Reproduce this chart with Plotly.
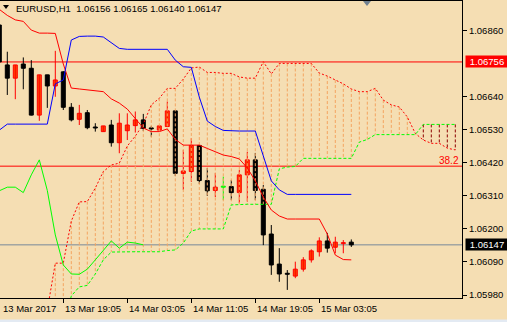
import plotly.graph_objects as go

# ---------------- data ----------------
bars = list(range(-1, 44))  # hourly bar index, 0 = 13 Mar 12:05
opens = [1.06879, 1.06746, 1.06702, 1.06749, 1.06735, 1.06579, 1.06713, 1.06676, 1.06723, 1.06605,
         1.06565, 1.06587, 1.06538, 1.06524, 1.06546, 1.06487, 1.06527, 1.06544, 1.06563, 1.06535,
         1.06529, 1.06541, 1.06593, 1.06385, 1.06391, 1.06478, 1.06361, 1.06328, 1.06339, 1.06341,
         1.06321, 1.06380, 1.06430, 1.06332, 1.06183, 1.06083, 1.06051, 1.06043, 1.06066, 1.06097,
         1.06124, 1.06160, 1.06139, 1.06151, 1.06156]
highs = [1.06879, 1.06790, 1.06746, 1.06771, 1.06762, 1.06713, 1.06713, 1.06793, 1.06725, 1.06619,
         1.06613, 1.06596, 1.06552, 1.06543, 1.06563, 1.06585, 1.06585, 1.06591, 1.06583, 1.06543,
         1.06544, 1.06624, 1.06596, 1.06463, 1.06502, 1.06479, 1.06403, 1.06386, 1.06374, 1.06363,
         1.06396, 1.06457, 1.06453, 1.06346, 1.06213, 1.06136, 1.06063, 1.06091, 1.06106, 1.06132,
         1.06172, 1.06187, 1.06174, 1.06163, 1.06165]
lows = [1.06756, 1.06646, 1.06632, 1.06665, 1.06578, 1.06560, 1.06603, 1.06640, 1.06596, 1.06558,
        1.06546, 1.06532, 1.06524, 1.06524, 1.06474, 1.06452, 1.06496, 1.06521, 1.06526, 1.06507,
        1.06528, 1.06539, 1.06376, 1.06330, 1.06357, 1.06350, 1.06310, 1.06306, 1.06296, 1.06296,
        1.06286, 1.06291, 1.06296, 1.06146, 1.06047, 1.06024, 1.05997, 1.06036, 1.06058, 1.06088,
        1.06108, 1.06121, 1.06119, 1.06119, 1.06140]
closes = [1.06756, 1.06702, 1.06746, 1.06735, 1.06579, 1.06713, 1.06676, 1.06696, 1.06605, 1.06563,
          1.06585, 1.06537, 1.06536, 1.06543, 1.06487, 1.06552, 1.06546, 1.06563, 1.06535, 1.06533,
          1.06543, 1.06593, 1.06385, 1.06393, 1.06478, 1.06361, 1.06327, 1.06339, 1.06339, 1.06321,
          1.06380, 1.06430, 1.06328, 1.06180, 1.06080, 1.06050, 1.06049, 1.06066, 1.06097, 1.06127,
          1.06160, 1.06136, 1.06156, 1.06153, 1.06147]

tenkan = [1.06931, 1.06911, 1.06896, 1.06891, 1.06862, 1.06852, 1.06852, 1.06851, 1.06749, 1.06669,
          1.06666, 1.06663, 1.06659, 1.06657, 1.06633, 1.06619, 1.06599, 1.06568, 1.06536, 1.06524,
          1.06524, 1.06533, 1.06498, 1.06479, 1.06479, 1.06479, 1.06468, 1.06457, 1.06446, 1.06441,
          1.06433, 1.06403, 1.06360, 1.06306, 1.06263, 1.06243, 1.06233, 1.06233, 1.06233, 1.06233,
          1.06233, 1.06183, 1.06113, 1.06098, 1.06097]
kijun = [1.06529, 1.06549, 1.06549, 1.06549, 1.06549, 1.06549, 1.06549, 1.06683, 1.06696, 1.06829,
         1.06841, 1.06842, 1.06842, 1.06839, 1.06821, 1.06801, 1.06798, 1.06798, 1.06798, 1.06798,
         1.06798, 1.06798, 1.06762, 1.06740, 1.06738, 1.06639, 1.06559, 1.06541, 1.06528, 1.06526,
         1.06526, 1.06526, 1.06526, 1.06443, 1.06360, 1.06330, 1.06315, 1.06315, 1.06315, 1.06315,
         1.06315, 1.06315, 1.06315, 1.06315, 1.06315]
chikou_shift = 26

cloud_bars = list(range(5, 57))
senkou_a = [1.05930, 1.06086, 1.06086, 1.06226, 1.06290, 1.06291, 1.06336, 1.06391, 1.06413, 1.06419,
            1.06476, 1.06509, 1.06549, 1.06613, 1.06635, 1.06668, 1.06668, 1.06699, 1.06736, 1.06739,
            1.06721, 1.06721, 1.06718, 1.06718, 1.06706, 1.06702, 1.06702, 1.06757, 1.06716, 1.06751,
            1.06751, 1.06751, 1.06751, 1.06751, 1.06719, 1.06709, 1.06696, 1.06683, 1.06666, 1.06657,
            1.06657, 1.06668, 1.06629, 1.06613, 1.06606, 1.06573, 1.06518, 1.06496, 1.06485, 1.06485,
            1.06469, 1.06463]
senkou_b = [1.05750, 1.05800, 1.05863, 1.05977, 1.06007, 1.06012, 1.06050, 1.06097, 1.06123, 1.06124,
            1.06124, 1.06124, 1.06124, 1.06124, 1.06124, 1.06128, 1.06130, 1.06153, 1.06193, 1.06200,
            1.06200, 1.06200, 1.06200, 1.06280, 1.06282, 1.06282, 1.06282, 1.06282, 1.06282, 1.06400,
            1.06406, 1.06408, 1.06435, 1.06435, 1.06435, 1.06435, 1.06435, 1.06435, 1.06435, 1.06489,
            1.06498, 1.06514, 1.06514, 1.06514, 1.06514, 1.06514, 1.06514, 1.06548, 1.06548, 1.06548,
            1.06548, 1.06548]

level_line = 1.06756
fib_line = 1.06409
fib_text = "38.2"
bid_price = 1.06147

x_tick_bars = [7, 15, 23, 31, 39]
x_tick_labels = ["13 Mar 19:05", "14 Mar 03:05", "14 Mar 11:05", "14 Mar 19:05", "15 Mar 03:05"]
first_date_label = "13 Mar 2017"
y_ticks = [1.06860, 1.06640, 1.06530, 1.06420, 1.06310, 1.06200, 1.06090, 1.05980]
symbol_text = "EURUSD,H1"
ohlc_text = "1.06156 1.06165 1.06140 1.06147"

# ---------------- style ----------------
BG = "#F5DEB3"
FONT = "Liberation Sans"
FS = 9.5
W, H = 507, 322
L, R, T, B = 0, 45, 1, 24
PW, PH = W - L - R, H - T - B
x_range = [-0.9125, 56.8375]
y_range = [1.0597002, 1.069589]
min_body = (y_range[1] - y_range[0]) / PH  # one pixel


def px_x(px):
    return (px - L) / PW


def px_y(py):
    return (H - B - py) / PH


fig = go.Figure()

# wicks
groups = {"bull": ([], [], "#FF0000"), "bear": ([], [], "#000000"), "doji": ([], [], "#00FF00")}
body = {"bull": ([], [], []), "bear": ([], [], []), "doji": ([], [], [])}
for k, o, h, l, c in zip(bars, opens, highs, lows, closes):
    kind = "bull" if c > o else ("bear" if c < o else "doji")
    gx, gy, _ = groups[kind]
    gx += [k, k, None]
    gy += [l, h, None]
    bx, bb, bh = body[kind]
    bx.append(k)
    bb.append(min(o, c))
    bh.append(max(abs(c - o), min_body))

for kind, (gx, gy, col) in groups.items():
    fig.add_trace(go.Scatter(x=gx, y=gy, mode="lines", line=dict(color=col, width=1),
                             hoverinfo="skip"))

fills = {"bull": ("#FF4500", "#FF0000"), "bear": ("#000000", "#000000"), "doji": ("#00FF00", "#00FF00")}
for kind, (bx, bb, bh) in body.items():
    fig.add_trace(go.Bar(x=bx, y=bh, base=bb, width=0.5,
                         marker=dict(color=fills[kind][0], line=dict(color=fills[kind][1], width=1)),
                         hoverinfo="skip"))

# cloud hatching
up_x, up_y, dn_x, dn_y = [], [], [], []
for k, a, b in zip(cloud_bars, senkou_a, senkou_b):
    if a >= b:
        up_x += [k, k, None]
        up_y += [a, b, None]
    else:
        dn_x += [k, k, None]
        dn_y += [b, a, None]
fig.add_trace(go.Scatter(x=up_x, y=up_y, mode="lines",
                         line=dict(color="#F4A460", width=1, dash="3px,2px"), hoverinfo="skip"))
fig.add_trace(go.Scatter(x=dn_x, y=dn_y, mode="lines",
                         line=dict(color="#8B0000", width=1, dash="3px,2px"), hoverinfo="skip"))

# senkou spans
fig.add_trace(go.Scatter(x=cloud_bars, y=senkou_a, mode="lines",
                         line=dict(color="#FF0000", width=1, dash="2px,2px"), hoverinfo="skip"))
fig.add_trace(go.Scatter(x=cloud_bars, y=senkou_b, mode="lines",
                         line=dict(color="#00FF00", width=1, dash="3px,2px"), hoverinfo="skip"))
# tenkan / kijun / chikou
fig.add_trace(go.Scatter(x=bars, y=tenkan, mode="lines", line=dict(color="#FF0000", width=1),
                         hoverinfo="skip"))
fig.add_trace(go.Scatter(x=bars, y=kijun, mode="lines", line=dict(color="#0000FF", width=1),
                         hoverinfo="skip"))
chikou_x = [k - chikou_shift for k in bars if k - chikou_shift >= bars[0]]
chikou_y = [c for k, c in zip(bars, closes) if k - chikou_shift >= bars[0]]
fig.add_trace(go.Scatter(x=chikou_x, y=chikou_y, mode="lines", line=dict(color="#00FF00", width=1),
                         hoverinfo="skip"))

shapes = [
    dict(type="line", xref="paper", yref="y", x0=0, x1=1, y0=level_line, y1=level_line,
         line=dict(color="#FF0000", width=1), layer="below"),
    dict(type="line", xref="paper", yref="y", x0=0, x1=1, y0=fib_line, y1=fib_line,
         line=dict(color="#FF0000", width=1), layer="below"),
    dict(type="line", xref="paper", yref="y", x0=0, x1=1, y0=bid_price, y1=bid_price,
         line=dict(color="#778899", width=1), layer="below"),
    # header triangle
    dict(type="path", xref="paper", yref="paper",
         path=f"M {px_x(3)} {px_y(5)} L {px_x(9)} {px_y(5)} L {px_x(6)} {px_y(9)} Z",
         fillcolor="#000000", line=dict(width=0)),
    # chart-shift marker
    dict(type="path", xref="paper", yref="paper",
         path=f"M {px_x(363)} {px_y(1)} L {px_x(371)} {px_y(1)} L {px_x(367)} {px_y(6)} Z",
         fillcolor="#708090", line=dict(width=0)),
    # bottom window strip
    dict(type="rect", xref="paper", yref="paper", x0=px_x(0), x1=px_x(W), y0=px_y(322), y1=px_y(319.5),
         fillcolor="#E3EAF3", line=dict(width=0)),
]

annotations = [
    dict(xref="paper", yref="paper", x=px_x(14), y=px_y(9), xanchor="left", yanchor="middle",
         text=symbol_text + "\u00a0\u00a0" + ohlc_text, showarrow=False,
         font=dict(family=FONT, size=FS, color="#000000")),
    dict(xref="paper", yref="paper", x=px_x(0), y=px_y(308.5), xanchor="left", yanchor="middle",
         text=first_date_label, showarrow=False, xshift=1,
         font=dict(family=FONT, size=FS, color="#000000")),
    dict(xref="paper", yref="paper", x=px_x(461), y=px_y(160.3), xanchor="right", yanchor="middle",
         text=fib_text, showarrow=False, font=dict(family=FONT, size=10, color="#FF0000")),
    dict(xref="paper", yref="y", x=px_x(465), y=level_line, xanchor="left", yanchor="middle",
         text=f"{level_line:.5f}", showarrow=False, bgcolor="#FF0000", borderpad=0,
         width=42, height=11, align="center", font=dict(family=FONT, size=FS, color="#FFFFFF")),
    dict(xref="paper", yref="y", x=px_x(465), y=bid_price, xanchor="left", yanchor="middle",
         text=f"{bid_price:.5f}", showarrow=False, bgcolor="#000000", borderpad=0,
         width=42, height=11, align="center", font=dict(family=FONT, size=FS, color="#FFFFFF")),
]
for k, lab in zip(x_tick_bars, x_tick_labels):
    annotations.append(dict(xref="x", yref="paper", x=k, y=px_y(308.5), xanchor="left",
                            yanchor="middle", text=lab, showarrow=False, xshift=0,
                            font=dict(family=FONT, size=FS, color="#000000")))

fig.update_layout(
    width=W, height=H, margin=dict(l=L, r=R, t=T, b=B, pad=0),
    paper_bgcolor=BG, plot_bgcolor=BG, showlegend=False, barmode="overlay",
    shapes=shapes, annotations=annotations,
    xaxis=dict(range=x_range, showgrid=False, zeroline=False, showline=True, linecolor="#000000",
               linewidth=1, mirror=True, ticks="outside", ticklen=4, tickcolor="#000000",
               tickvals=x_tick_bars, showticklabels=False, fixedrange=True),
    yaxis=dict(range=y_range, side="right", showgrid=False, zeroline=False, showline=True,
               linecolor="#000000", linewidth=1, ticks="outside", ticklen=4, tickcolor="#000000",
               tickvals=y_ticks, ticktext=[f"{v:.5f}" for v in y_ticks],
               tickfont=dict(family=FONT, size=FS, color="#000000"), fixedrange=True),
)

fig.write_html("out.html")
